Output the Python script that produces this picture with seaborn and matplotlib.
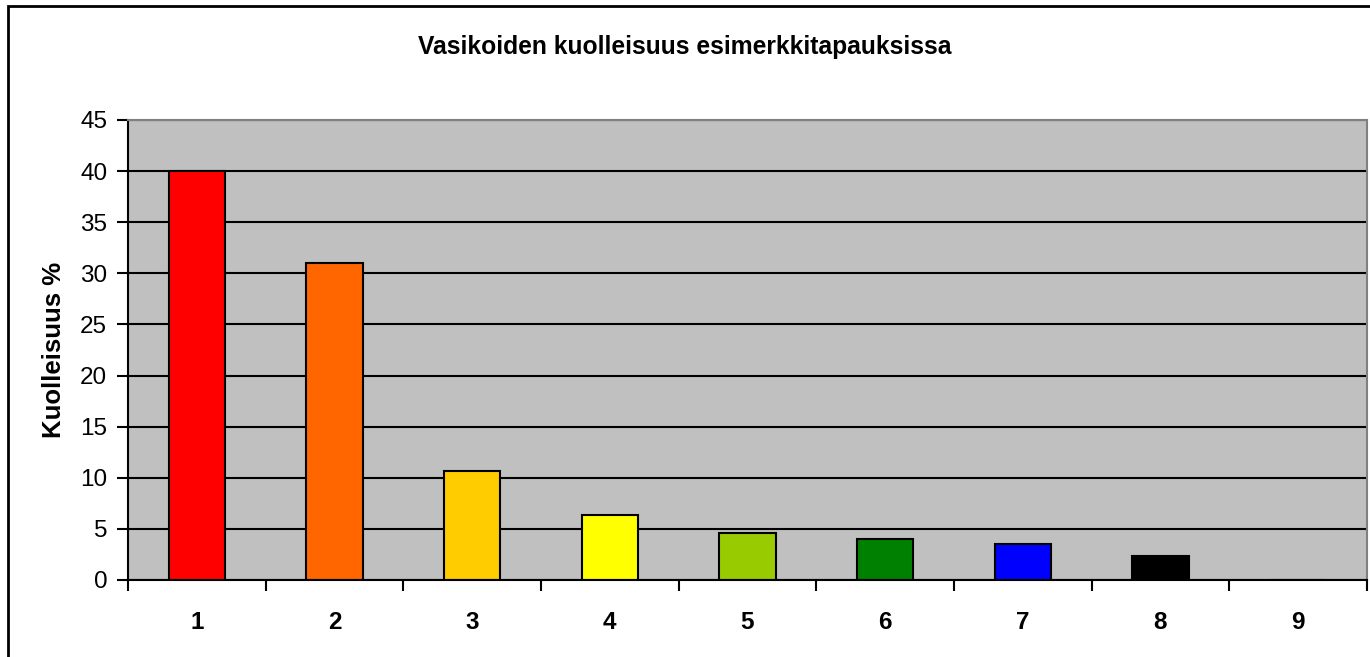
import matplotlib
matplotlib.use("Agg")
import matplotlib.pyplot as plt
import matplotlib.patches as mpatches
from matplotlib.ticker import MultipleLocator, FixedLocator
import seaborn as sns
import pandas as pd

categories = ["1", "2", "3", "4", "5", "6", "7", "8", "9"]
values = [40, 31, 10.7, 6.4, 4.6, 4.0, 3.5, 2.35, 0]
colors = ["#FF0000", "#FF6600", "#FFCC00", "#FFFF00", "#99CC00",
          "#008000", "#0000FF", "#000000", "#FFFFFF"]
title = "Vasikoiden kuolleisuus esimerkkitapauksissa"
ylabel = "Kuolleisuus %"

sns.set_style("white")
plt.rcParams['font.family'] = ['Liberation Sans', 'DejaVu Sans']
plt.rcParams['text.color'] = 'black'
plt.rcParams['axes.labelcolor'] = 'black'
plt.rcParams['xtick.color'] = 'black'
plt.rcParams['ytick.color'] = 'black'

df = pd.DataFrame({"cat": categories, "val": values})

fig = plt.figure(figsize=(13.7, 6.57), dpi=100)
ax = fig.add_axes([128/1370, 1-580/657, (1367-128)/1370, 460/657])
ax.set_facecolor("#C0C0C0")
ax.set_axisbelow(True)

sns.barplot(data=df, x="cat", y="val", hue="cat", palette=colors,
            legend=False, width=0.41, edgecolor="black", linewidth=1.5,
            saturation=1, ax=ax)

ax.set_ylim(0, 45)
ax.set_xlim(-0.5, 8.5)
ax.yaxis.set_major_locator(MultipleLocator(5))
ax.yaxis.grid(True, color="black", linewidth=1.5)
ax.xaxis.grid(False)

for s in ["top", "right"]:
    ax.spines[s].set_color("#808080")
    ax.spines[s].set_linewidth(1.5)
for s in ["left", "bottom"]:
    ax.spines[s].set_color("black")
    ax.spines[s].set_linewidth(1.5)

ax.tick_params(axis="y", which="major", direction="out", length=8, width=1.5,
               color="black", labelcolor="black", labelsize=17.5, pad=7, left=True)
ax.tick_params(axis="x", which="major", length=0, labelsize=17.5, pad=22,
               labelcolor="black")
ax.xaxis.set_minor_locator(FixedLocator([i - 0.5 for i in range(10)]))
ax.tick_params(axis="x", which="minor", direction="out", length=8, width=1.5,
               color="black", bottom=True)
for lbl in ax.get_xticklabels():
    lbl.set_fontweight("bold")

ax.set_xlabel("")
ax.set_ylabel(ylabel, fontsize=18.5, fontweight="bold", labelpad=10,
              color="black")

fig.text(0.5, 1-47/657, title, ha="center", va="center",
         fontsize=17.7, fontweight="bold", color="black")

border = mpatches.Rectangle((8/1370, -0.05), 1.1, 1.05 - 5.5/657,
                            transform=fig.transFigure, fill=False,
                            edgecolor="black", linewidth=2, clip_on=False)
fig.patches.append(border)

fig.savefig("out.png", dpi=100)
